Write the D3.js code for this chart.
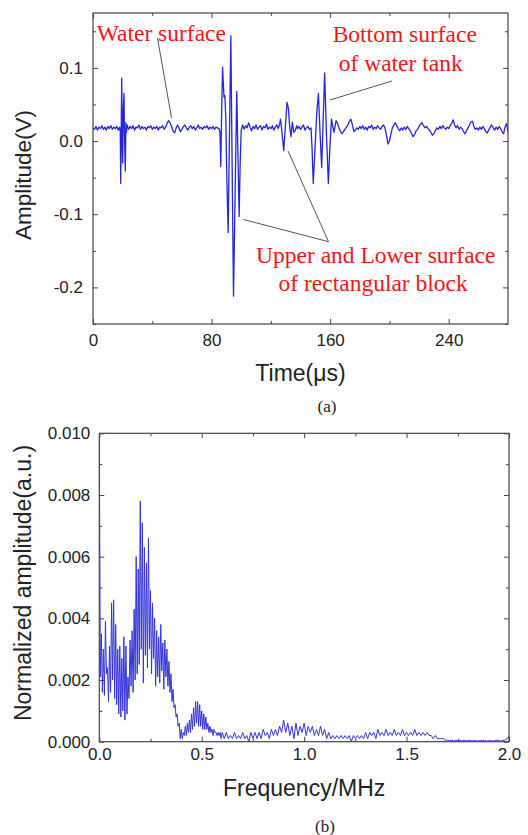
<!DOCTYPE html>
<html lang="en">
<head>
<meta charset="utf-8">
<script src="https://d3js.org/d3.v7.min.js"></script>
<style>
  body { margin: 0; background: #fff; }
  .tick text { font-family: "Liberation Sans", Arial, sans-serif; font-size: 17px; fill: #222; }
  .tick line { stroke: #444; }
</style>
</head>
<body>
<div id="chart"></div>
<script>
// ---- panel (a): received echo signal ----
var timeUs = [
  0,1,2,3,4,5,6,7,8,9,10,11,12,13,14,15,16,17,18,
  18.4,18.7,19.1,19.4,19.7,20.0,20.4,20.9,21.3,21.8,22.2,22.6,23,
  24,25,26,27,28,29,30,31,32,33,34,35,36,37,38,39,40,41,42,43,44,45,46,47,48,
  49,50,51,52,53,54,55,56,57,58,59,60,
  61,62,63,64,65,66,67,68,69,70,71,72,73,74,75,76,77,78,79,80,81,82,83,84,85,
  85.7,86.2,86.8,87.4,87.9,88.4,89.0,89.6,90.4,91.2,92.1,93.0,93.9,94.8,95.9,97.0,97.8,98.6,99.3,100.0,
  101,102,103,104,105,106,107,108,109,110,111,112,113,114,115,116,117,118,119,120,121,122,123,124,125,
  126,126.5,127.5,128.7,129.8,130.9,131.8,132.7,133.6,134.5,135.5,136.5,137.5,
  138,139,140,141,142,143,144,145,146,
  147.1,147.8,148.6,149.8,151.0,152.1,153.2,154.3,155.3,156.3,157.5,158.8,159.8,160.9,161.8,162.6,163.5,
  164,165,166,167,168,169,170,171,172,173,174,175,176,177,178,179,180,181,182,183,
  184,185,186,187,188,189,190,191,192,193,194,195,196,197,198,199,200,201,202,203,
  204,205,206,207,208,209,210,211,212,213,214,215,216,217,218,219,220,221,222,223,
  224,225,226,227,228,229,230,231,232,233,234,235,236,237,238,239,240,241,242,243,
  244,245,246,247,248,249,250,251,252,253,254,255,256,257,258,259,260,261,262,263,
  264,265,266,267,268,269,270,271,272,273,274,275,276,277,278,279,280
];
var amplitudeV = [
  0.018,0.016,0.020,0.015,0.019,0.017,0.021,0.016,0.019,0.015,0.020,0.017,0.021,0.016,0.019,0.017,0.020,0.015,0.019,
  0.012,-0.058,0.030,0.086,0.000,-0.030,0.040,0.065,0.000,-0.041,0.025,0.012,0.022,
  0.016,0.020,0.017,0.021,0.015,0.019,0.018,0.022,0.016,0.020,0.017,0.019,0.015,0.020,0.018,0.021,0.016,0.019,0.017,0.020,0.015,0.019,0.018,0.021,0.016,
  0.019,0.024,0.028,0.025,0.020,0.014,0.011,0.017,0.022,0.018,0.013,0.016,
  0.020,0.022,0.018,0.015,0.019,0.021,0.017,0.020,0.015,0.018,0.022,0.017,0.019,0.016,0.020,0.018,0.021,0.016,0.019,0.017,0.020,0.016,0.019,0.018,0.017,
  0.012,-0.035,0.040,0.101,0.080,0.060,0.062,0.030,-0.060,-0.125,0.010,0.144,-0.040,-0.212,-0.070,0.068,-0.020,-0.103,-0.030,0.015,
  0.022,0.016,0.021,0.018,0.025,0.019,0.014,0.020,0.017,0.022,0.016,0.019,0.021,0.015,0.020,0.018,0.023,0.016,0.019,0.017,0.021,0.015,0.019,0.022,0.017,
  0.024,0.030,0.012,-0.013,0.020,0.053,0.045,0.020,0.006,0.026,0.012,0.015,0.021,
  0.017,0.020,0.016,0.019,0.022,0.015,0.018,0.020,0.016,
  0.018,-0.010,-0.058,-0.010,0.040,0.065,0.010,-0.036,0.030,0.093,0.010,-0.058,-0.010,0.030,0.020,0.012,0.022,
  0.028,0.024,0.018,0.013,0.010,0.013,0.016,0.019,0.022,0.027,0.030,0.022,0.013,0.015,0.018,0.016,0.020,0.017,0.021,0.016,
  0.019,0.015,0.020,0.018,0.022,0.016,0.019,0.017,0.021,0.018,0.016,0.020,0.022,0.018,0.008,-0.004,0.000,0.010,0.018,0.022,
  0.025,0.021,0.017,0.014,0.018,0.015,0.019,0.016,0.020,0.017,0.014,0.010,0.006,0.009,0.014,0.016,0.020,0.023,0.025,0.021,
  0.018,0.020,0.017,0.015,0.012,0.008,0.010,0.014,0.018,0.016,0.020,0.017,0.021,0.018,0.016,0.019,0.017,0.021,0.024,0.029,
  0.022,0.018,0.021,0.016,0.019,0.017,0.013,0.010,0.014,0.018,0.022,0.026,0.027,0.020,0.016,0.018,0.015,0.019,0.016,0.020,
  0.017,0.013,0.011,0.015,0.019,0.022,0.018,0.015,0.019,0.016,0.020,0.017,0.013,0.010,0.019,0.024,0.013
];
var timeTicks = [0, 80, 160, 240];
var timeMinor = [40, 120, 200];
var ampTicks = [-0.2, -0.1, 0.0, 0.1];
var ampMinor = [-0.25, -0.15, -0.05, 0.05, 0.15];

// ---- panel (b): spectrum ----
var freqMHz = [
  0.000,0.005,0.010,0.015,0.020,0.025,0.030,0.035,0.040,0.045,
  0.050,0.055,0.060,0.065,0.070,0.075,0.080,0.085,0.090,0.095,
  0.100,0.105,0.110,0.115,0.120,0.125,0.130,0.135,0.140,0.145,
  0.150,0.155,0.160,0.165,0.170,0.175,0.180,0.185,0.190,0.195,
  0.200,0.205,0.210,0.215,0.220,0.225,0.230,0.235,0.240,0.245,
  0.250,0.255,0.260,0.265,0.270,0.275,0.280,0.285,0.290,0.295,
  0.300,0.305,0.310,0.315,0.320,0.325,0.330,0.335,0.340,0.345,
  0.350,0.355,0.360,0.365,0.370,0.375,0.380,0.385,0.390,0.395,
  0.400,0.405,0.410,0.415,0.420,0.425,0.430,0.435,0.440,0.445,
  0.450,0.455,0.460,0.465,0.470,0.475,0.480,0.485,0.490,0.495,
  0.500,0.505,0.510,0.515,0.520,0.525,0.530,0.535,0.540,0.545,
  0.550,0.555,0.560,0.565,0.570,0.575,0.580,0.585,0.590,0.595,
  0.600,
  0.61,0.62,0.63,0.64,0.65,0.66,0.67,0.68,0.69,0.70,
  0.71,0.72,0.73,0.74,0.75,0.76,0.77,0.78,0.79,0.80,
  0.81,0.82,0.83,0.84,0.85,0.86,0.87,0.88,0.89,0.90,
  0.91,0.92,0.93,0.94,0.95,0.96,0.97,0.98,0.99,1.00,
  1.01,1.02,1.03,1.04,1.05,1.06,1.07,1.08,1.09,1.10,
  1.11,1.12,1.13,1.14,1.15,1.16,1.17,1.18,1.19,1.20,
  1.21,1.22,1.23,1.24,1.25,1.26,1.27,1.28,1.29,1.30,
  1.31,1.32,1.33,1.34,1.35,1.36,1.37,1.38,1.39,1.40,
  1.41,1.42,1.43,1.44,1.45,1.46,1.47,1.48,1.49,1.50,
  1.51,1.52,1.53,1.54,1.55,1.56,1.57,1.58,1.59,1.60,
  1.61,1.62,1.63,1.64,1.65,1.66,1.67,1.68,1.69,1.70,
  1.71,1.72,1.73,1.74,1.75,1.76,1.77,1.78,1.79,1.80,
  1.81,1.82,1.83,1.84,1.85,1.86,1.87,1.88,1.89,1.90,
  1.91,1.92,1.93,1.94,1.95,1.96,1.97,1.98,1.99,2.00
];
var normAmp = [
  0.0100,0.0021,0.0035,0.0016,0.0030,0.0015,0.0039,0.0022,0.0024,0.0013,
  0.0031,0.0016,0.0045,0.0020,0.0046,0.0014,0.0038,0.0012,0.0030,0.0009,
  0.0031,0.0008,0.0027,0.0010,0.0034,0.0007,0.0031,0.0009,0.0021,0.0014,
  0.0033,0.0018,0.0036,0.0016,0.0043,0.0020,0.0060,0.0022,0.0056,0.0025,
  0.0078,0.0030,0.0071,0.0019,0.0063,0.0028,0.0058,0.0024,0.0066,0.0030,
  0.0049,0.0022,0.0045,0.0027,0.0040,0.0018,0.0036,0.0021,0.0034,0.0019,
  0.0038,0.0023,0.0032,0.0017,0.0033,0.0021,0.0030,0.0018,0.0026,0.0016,
  0.0022,0.0013,0.0017,0.0011,0.0012,0.0008,0.0009,0.0005,0.0006,0.0001,
  0.0004,0.0001,0.0003,0.0002,0.0005,0.0002,0.0006,0.0003,0.0007,0.0003,
  0.0009,0.0004,0.0011,0.0005,0.0013,0.0006,0.0013,0.0005,0.0012,0.0005,
  0.0010,0.0004,0.0009,0.0004,0.0008,0.0004,0.0006,0.0003,0.0005,0.0003,
  0.0004,0.0002,0.0004,0.0003,0.0003,0.0002,0.0003,0.0002,0.0003,0.0001,
  0.0003,
  0.0001,0.0003,0.0001,0.0002,0.0001,0.0003,0.0001,0.0002,0.0001,0.0003,
  0.0001,0.0002,0.0000,0.0003,0.0001,0.0003,0.0001,0.0003,0.0001,0.0004,
  0.0002,0.0003,0.0001,0.0004,0.0002,0.0004,0.0002,0.0005,0.0003,0.0007,
  0.0003,0.0006,0.0002,0.0005,0.0001,0.0006,0.0002,0.0005,0.0003,0.0006,
  0.0002,0.0005,0.0003,0.0005,0.0002,0.0004,0.0002,0.0005,0.0002,0.0004,
  0.0001,0.0003,0.0001,0.0002,0.0001,0.0002,0.0001,0.0002,0.0001,0.0002,
  0.0001,0.0002,0.0000,0.0002,0.0001,0.0002,0.0001,0.0002,0.0001,0.0003,
  0.0001,0.0003,0.0002,0.0003,0.0001,0.0004,0.0002,0.0003,0.0002,0.0004,
  0.0002,0.0003,0.0002,0.0004,0.0002,0.0003,0.0002,0.0004,0.0002,0.0003,
  0.0002,0.0003,0.0002,0.0004,0.0002,0.0003,0.0002,0.0003,0.0002,0.0003,
  0.0002,0.0002,0.0001,0.0002,0.0001,0.0001,0.0001,0.0001,0.00005,0.00005,
  0.00003,0.00005,0.00002,0.00004,0.00003,0.00005,0.00002,0.00004,0.00003,0.00003,
  0.00005,0.00002,0.00004,0.00003,0.00002,0.00004,0.00003,0.00005,0.00002,0.00003,
  0.00004,0.00002,0.00003,0.00005,0.00003,0.00002,0.00004,0.00005,0.0001,0.00015
];
var freqTicks = [0, 0.5, 1.0, 1.5, 2.0];
var freqMinor = [0.25, 0.75, 1.25, 1.75];
var normTicks = [0, 0.002, 0.004, 0.006, 0.008, 0.010];
var normMinor = [0.001, 0.003, 0.005, 0.007, 0.009];

var width = 528, height = 835;
var svg = d3.select("#chart").append("svg")
  .attr("width", width)
  .attr("height", height);

var sans = '"Liberation Sans", Arial, sans-serif';
var serif = '"Liberation Serif", "Times New Roman", serif';

// draws ticks on all four sides (Origin style, pointing inward) and the box
function frame(box, x, y, xt, xm, yt, ym, fx, fy, padX, padY) {
  var g = svg.append("g");
  var sides = [
    [d3.axisBottom(x), box.bottom, true, xt, xm, fx, padX],
    [d3.axisTop(x), box.top, false, xt, xm, fx, padX],
    [d3.axisLeft(y), box.left, true, yt, ym, fy, padY],
    [d3.axisRight(y), box.right, false, yt, ym, fy, padY]
  ];
  sides.forEach(function (s, i) {
    var horiz = i < 2;
    var tr = horiz ? "translate(0," + s[1] + ")" : "translate(" + s[1] + ",0)";
    g.append("g").attr("transform", tr)
      .call(s[0].tickValues(s[3]).tickSize(-5).tickPadding(s[6])
        .tickFormat(s[2] ? s[5] : function () { return ""; }))
      .call(function (a) { a.select(".domain").remove(); });
    g.append("g").attr("transform", tr)
      .call(s[0].tickValues(s[4]).tickSize(-3).tickFormat(function () { return ""; }))
      .call(function (a) { a.select(".domain").remove(); });
  });
  g.append("rect")
    .attr("x", box.left).attr("y", box.top)
    .attr("width", box.right - box.left).attr("height", box.bottom - box.top)
    .attr("fill", "none").attr("stroke", "#444").attr("stroke-width", 1.2);
}

function clip(id, box) {
  svg.append("clipPath").attr("id", id).append("rect")
    .attr("x", box.left).attr("y", box.top)
    .attr("width", box.right - box.left).attr("height", box.bottom - box.top);
}

// ---------- (a) ----------
var A = { left: 93, right: 508, top: 13, bottom: 324 };
var xa = d3.scaleLinear().domain([0, 280]).range([A.left, A.right]);
var ya = d3.scaleLinear().domain([-0.25, 0.175]).range([A.bottom, A.top]);
clip("clipA", A);

var sigA = timeUs.map(function (t, i) { return [t, amplitudeV[i]]; })
  .filter(function (d) { return d[1] !== undefined; });
svg.append("path")
  .datum(sigA)
  .attr("clip-path", "url(#clipA)")
  .attr("fill", "none")
  .attr("stroke", "#2626d6")
  .attr("stroke-width", 1.3)
  .attr("stroke-linejoin", "round")
  .attr("d", d3.line().x(function (d) { return xa(d[0]); }).y(function (d) { return ya(d[1]); }));

frame(A, xa, ya, timeTicks, timeMinor, ampTicks, ampMinor,
  function (d) { return String(d); },
  function (d) { return d.toFixed(1); }, 10, 10);

// leader lines (in data coordinates)
var leaders = [
  [[43.5, 0.1408], [53.0, 0.0315]],
  [[201.7, 0.0821], [159.9, 0.0561]],
  [[101.5, -0.1072], [158.9, -0.1375]],
  [[131.6, -0.0136], [158.9, -0.1375]]
];
leaders.forEach(function (l) {
  svg.append("line")
    .attr("x1", xa(l[0][0])).attr("y1", ya(l[0][1]))
    .attr("x2", xa(l[1][0])).attr("y2", ya(l[1][1]))
    .attr("stroke", "#555").attr("stroke-width", 1);
});

var notes = [
  ["Water surface", 2.5, 0.1367],
  ["Bottom surface", 161.7, 0.136],
  ["of water tank", 165.8, 0.0957],
  ["Upper and Lower surface", 110.0, -0.1666],
  ["of rectangular block", 125.2, -0.2049]
];
svg.selectAll(".note").data(notes).enter().append("text")
  .attr("class", "note")
  .attr("x", function (d) { return xa(d[1]); })
  .attr("y", function (d) { return ya(d[2]); })
  .attr("font-family", serif).attr("font-size", 23.5)
  .attr("fill", "#f01818")
  .text(function (d) { return d[0]; });

svg.append("text")
  .attr("x", (A.left + A.right) / 2).attr("y", A.bottom + 57)
  .attr("text-anchor", "middle").attr("font-family", sans).attr("font-size", 23).attr("fill", "#222")
  .text("Time(\u03bcs)");
svg.append("text")
  .attr("transform", "translate(31," + 175 + ") rotate(-90)")
  .attr("text-anchor", "middle").attr("font-family", sans).attr("font-size", 22.5).attr("fill", "#222")
  .text("Amplitude(V)");
svg.append("text")
  .attr("x", 327).attr("y", 412)
  .attr("text-anchor", "middle").attr("font-family", serif).attr("font-size", 17).attr("fill", "#222")
  .text("(a)");

// ---------- (b) ----------
var B = { left: 99.3, right: 509, top: 433.3, bottom: 741.7 };
var xb = d3.scaleLinear().domain([0, 2]).range([B.left, B.right]);
var yb = d3.scaleLinear().domain([0, 0.010]).range([B.bottom, B.top]);
clip("clipB", B);

var spec = freqMHz.map(function (f, i) { return [f, normAmp[i]]; })
  .filter(function (d) { return d[1] !== undefined; });
svg.append("path")
  .datum(spec)
  .attr("clip-path", "url(#clipB)")
  .attr("fill", "none")
  .attr("stroke", "#3434d8")
  .attr("stroke-width", 1)
  .attr("d", d3.line().x(function (d) { return xb(d[0]); }).y(function (d) { return yb(d[1]); }));

frame(B, xb, yb, freqTicks, freqMinor, normTicks, normMinor,
  function (d) { return d.toFixed(1); },
  function (d) { return d.toFixed(3); }, 6, 9);

svg.append("text")
  .attr("x", (B.left + B.right) / 2).attr("y", 796)
  .attr("text-anchor", "middle").attr("font-family", sans).attr("font-size", 23).attr("fill", "#222")
  .text("Frequency/MHz");
svg.append("text")
  .attr("transform", "translate(31," + 583 + ") rotate(-90)")
  .attr("text-anchor", "middle").attr("font-family", sans).attr("font-size", 23).attr("fill", "#222")
  .text("Normalized amplitude(a.u.)");
svg.append("text")
  .attr("x", 325).attr("y", 832)
  .attr("text-anchor", "middle").attr("font-family", serif).attr("font-size", 17).attr("fill", "#222")
  .text("(b)");
</script>
</body>
</html>
